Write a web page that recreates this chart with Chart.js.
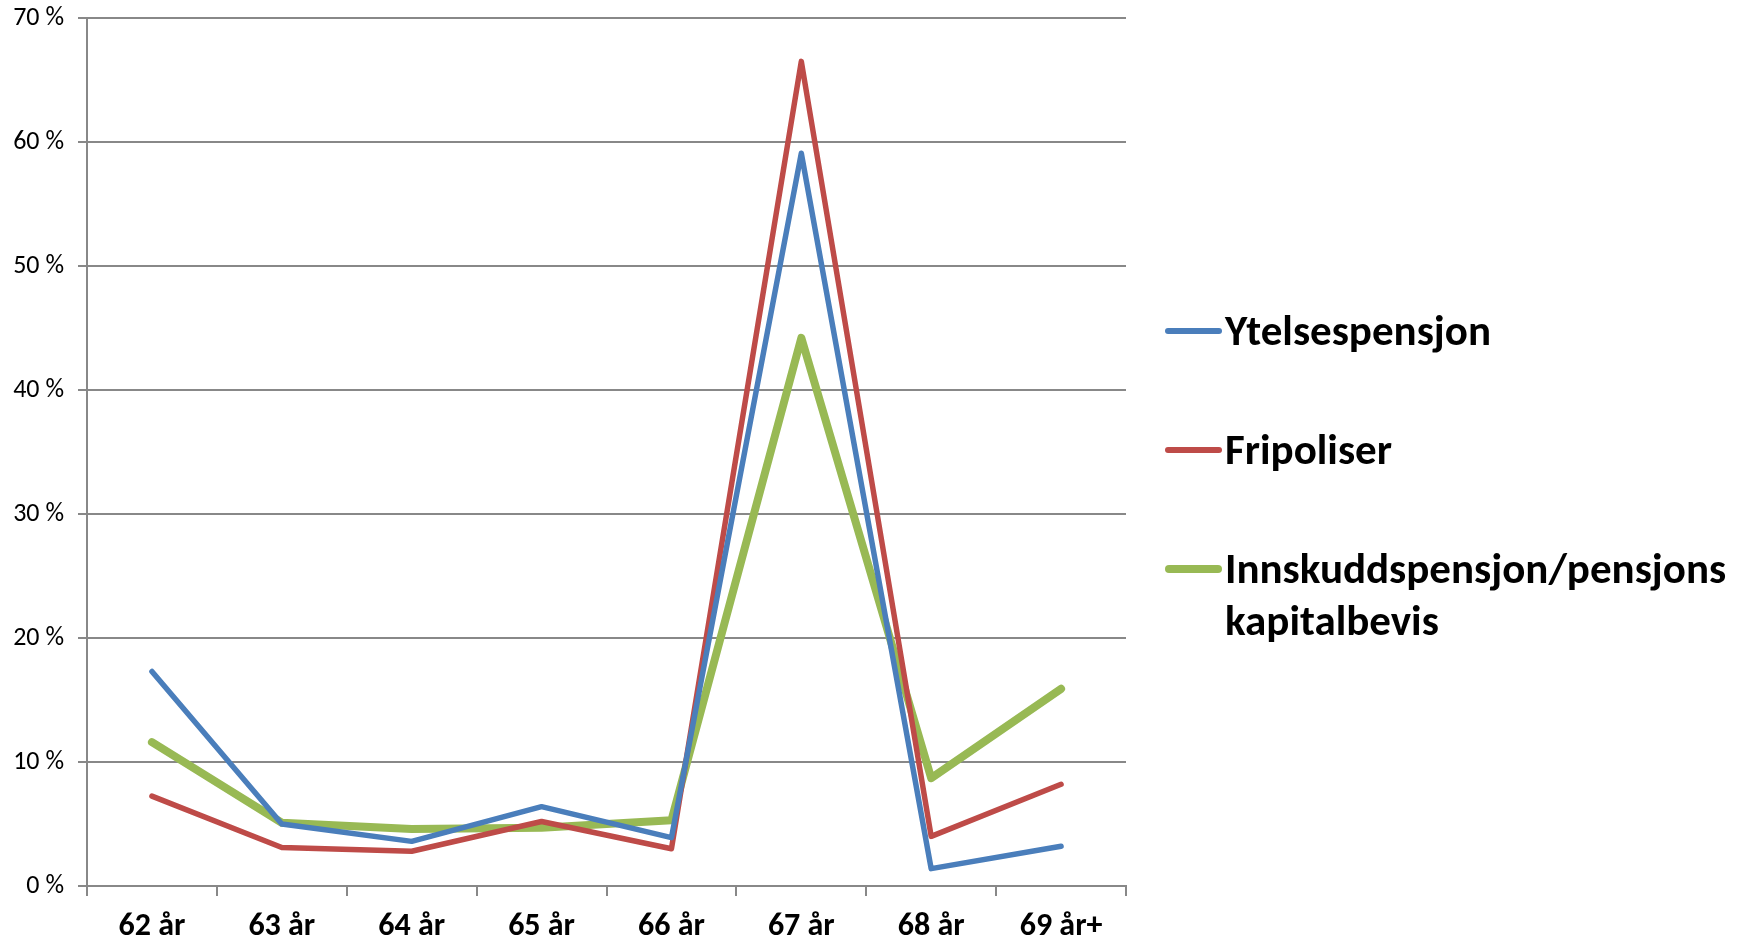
<!DOCTYPE html>
<html>
<head>
<meta charset="utf-8">
<script src="https://cdn.jsdelivr.net/npm/chart.js@4/dist/chart.umd.min.js"></script>
<style>
  html, body { margin: 0; padding: 0; background: #fff; }
  #wrap { position: relative; width: 1740px; height: 943px; }
  #legend { position: absolute; left: 1165px; top: 0; font-family: Carlito, Lato, sans-serif; font-weight: bold; font-size: 43px; color: #000; }
  .item { position: absolute; left: 0; white-space: nowrap; }
  .swatch { position: absolute; left: 0; width: 57px; border-radius: 4px; }
  .txt { position: absolute; left: 60px; line-height: 52px; }
</style>
</head>
<body>
<div id="wrap">
  <canvas id="c" width="1740" height="943"></canvas>
  <div id="legend"></div>
</div>
<script>
const categories = ['62 år', '63 år', '64 år', '65 år', '66 år', '67 år', '68 år', '69 år+'];
const ytelsespensjon = [17.3, 5.0, 3.6, 6.4, 3.9, 59.1, 1.4, 3.2];
const fripoliser = [7.25, 3.1, 2.8, 5.2, 3.0, 66.5, 4.0, 8.2];
const innskudd = [11.6, 5.1, 4.6, 4.7, 5.3, 44.2, 8.7, 15.9];
const seriesNames = ['Ytelsespensjon', 'Fripoliser', 'Innskuddspensjon/pensjons\nkapitalbevis'];
const yTicks = [0, 10, 20, 30, 40, 50, 60, 70];

const colors = ['#4A7EBB', '#BE4B48', '#98B954'];
const widths = [5.5, 5.5, 8];
const gridColor = '#888888';
const fontFam = 'Carlito, Lato, sans-serif';

const chart = new Chart(document.getElementById('c'), {
  type: 'line',
  data: {
    labels: categories,
    datasets: [ytelsespensjon, fripoliser, innskudd].map((d, i) => ({
      label: seriesNames[i],
      data: d,
      borderColor: colors[i],
      backgroundColor: colors[i],
      borderWidth: widths[i],
      pointRadius: 0,
      tension: 0,
      borderJoinStyle: 'round',
      borderCapStyle: 'round'
    }))
  },
  options: {
    responsive: false,
    animation: false,
    devicePixelRatio: 1,
    layout: { padding: { left: 0, top: 18, right: 614, bottom: 0 } },
    plugins: { legend: { display: false }, tooltip: { enabled: false } },
    scales: {
      x: {
        offset: true,
        grid: { offset: true, drawOnChartArea: false, drawTicks: true, tickLength: 10, color: gridColor, lineWidth: 2 },
        border: { color: gridColor, width: 2 },
        ticks: { color: '#000', padding: 12, font: { family: fontFam, size: 32, weight: 'bold' }, maxRotation: 0 },
        afterFit: s => { s.height = 57; s.paddingLeft = 0; s.paddingRight = 0; }
      },
      y: {
        min: 0, max: 70,
        afterBuildTicks: s => { s.ticks = yTicks.map(v => ({ value: v })); },
        grid: { color: gridColor, lineWidth: 2, drawTicks: true, tickLength: 9 },
        border: { color: gridColor, width: 2 },
        ticks: { color: '#000', padding: 14, font: { family: fontFam, size: 26 }, callback: v => v + ' %' },
        afterFit: s => { s.width = 87; s.paddingTop = 0; s.paddingBottom = 0; }
      }
    }
  }
});

// HTML legend built from the chart's datasets
const legendTops = [331, 450, 569];
const legend = document.getElementById('legend');
chart.data.datasets.forEach((ds, i) => {
  const item = document.createElement('div');
  item.className = 'item';
  item.style.top = legendTops[i] + 'px';
  const sw = document.createElement('div');
  sw.className = 'swatch';
  const h = i === 2 ? 8 : 6;
  sw.style.height = h + 'px';
  sw.style.top = (-h / 2) + 'px';
  sw.style.background = ds.borderColor;
  const t = document.createElement('div');
  t.className = 'txt';
  t.style.top = '-26px';
  ds.label.split('\n').forEach((line, k) => {
    if (k) t.appendChild(document.createElement('br'));
    t.appendChild(document.createTextNode(line));
  });
  item.appendChild(sw);
  item.appendChild(t);
  legend.appendChild(item);
});
</script>
</body>
</html>
